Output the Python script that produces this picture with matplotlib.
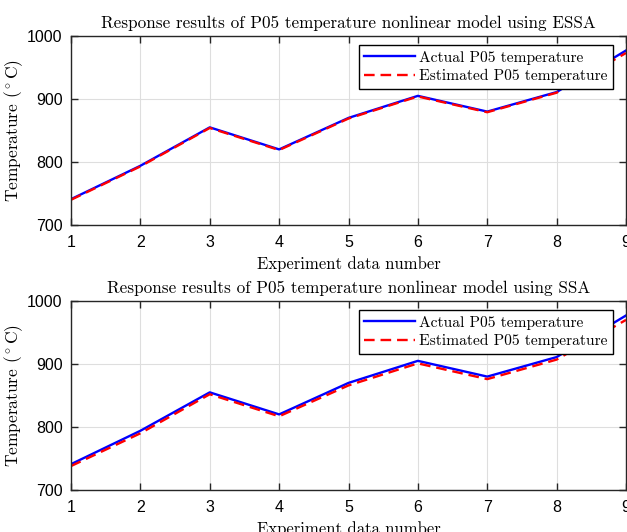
import matplotlib
matplotlib.use("Agg")
import matplotlib.pyplot as plt

x = [1, 2, 3, 4, 5, 6, 7, 8, 9]
actual = [741, 794, 855, 820, 870, 905, 880, 911, 977]
est_essa = [740, 793, 854, 819, 869, 904, 879, 910, 973]
est_ssa = [738, 790, 852, 817, 866, 901, 876, 907, 970]
titles = ["Response results of P05 temperature nonlinear model using ESSA",
          "Response results of P05 temperature nonlinear model using SSA"]
yticks = [700, 800, 900, 1000]

plt.rcParams['mathtext.fontset'] = 'cm'
serif = 'cmr10'
tickfont = 'Liberation Sans'

fig = plt.figure(figsize=(6.27, 5.32), dpi=100)
W, H = 627, 532
boxes = [(71, 36, 626, 225), (71, 301, 626, 490)]
for (x0, y0, x1, y1), est, title in zip(boxes, [est_essa, est_ssa], titles):
    ax = fig.add_axes([x0 / W, 1 - y1 / H, (x1 - x0) / W, (y1 - y0) / H])
    ax.plot(x, actual, color='#0000ff', lw=1.7, label='Actual P05 temperature')
    ax.plot(x, est, color='#ff0000', lw=1.7, ls=(0, (4.5, 2.5)), label='Estimated P05 temperature')
    ax.set_xlim(1, 9)
    ax.set_ylim(700, 1000)
    ax.set_xticks(x)
    ax.set_yticks(yticks)
    ax.grid(True, color='#dedede', lw=0.8)
    ax.set_axisbelow(True)
    ax.tick_params(direction='in', top=True, right=True, length=5, width=1, colors='#262626', labelsize=11.5)
    ax.tick_params(axis='x', pad=7)
    ax.tick_params(axis='y', pad=6)
    for lab in ax.get_xticklabels() + ax.get_yticklabels():
        lab.set_fontfamily(tickfont)
        lab.set_color('black')
    for s in ax.spines.values():
        s.set_color('#262626')
        s.set_linewidth(1.0)
    ax.set_title(title, fontfamily=serif, fontsize=12.3, pad=6)
    ax.set_xlabel('Experiment data number', fontfamily=serif, fontsize=12, labelpad=5)
    ax.set_ylabel(r'Temperature ($^\circ$C)', fontfamily=serif, fontsize=12.5)
    ax.yaxis.set_label_coords(-0.083, 0.5)
    leg = ax.legend(loc='upper right', bbox_to_anchor=(0.977, 0.952), prop={'family': serif, 'size': 11.2},
                    fancybox=False, framealpha=1, edgecolor='black', borderpad=0.35,
                    handlelength=3.3, handletextpad=0.25, labelspacing=0.3, borderaxespad=0)
    leg.get_frame().set_linewidth(1.0)

fig.savefig('out.png', dpi=100)
